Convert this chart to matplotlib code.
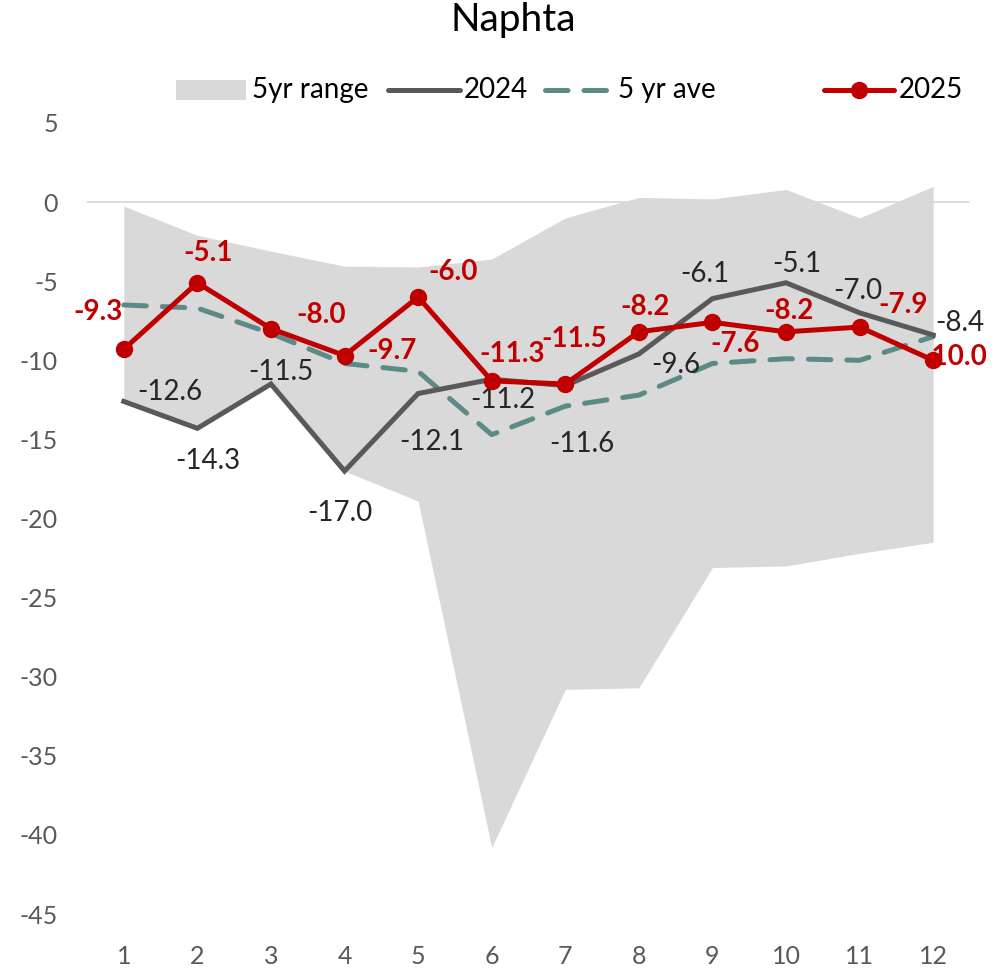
import matplotlib
matplotlib.use("Agg")
import matplotlib.pyplot as plt
from matplotlib.patches import Rectangle
from matplotlib.lines import Line2D

plt.rcParams['font.family'] = ['Lato', 'DejaVu Sans']

# ---- data ----
months = [1, 2, 3, 4, 5, 6, 7, 8, 9, 10, 11, 12]
range_high = [-0.25, -2.1, -3.1, -4.05, -4.1, -3.6, -1.0, 0.3, 0.2, 0.8, -1.0, 1.0]
range_low = [-12.6, -14.3, -11.5, -17.0, -18.9, -40.8, -30.8, -30.7, -23.1, -23.0, -22.2, -21.5]
y2024 = [-12.6, -14.3, -11.5, -17.0, -12.1, -11.2, -11.6, -9.6, -6.1, -5.1, -7.0, -8.4]
avg5 = [-6.5, -6.7, -8.3, -10.2, -10.7, -14.7, -12.9, -12.2, -10.2, -9.9, -10.0, -8.5]
y2025 = [-9.3, -5.1, -8.0, -9.7, -6.0, -11.3, -11.5, -8.2, -7.6, -8.2, -7.9, -10.0]
yticks = [5, 0, -5, -10, -15, -20, -25, -30, -35, -40, -45]

# label offsets in pixels (dx, dy with y pointing up)
off2024 = [(46, 9), (10, -33), (10, 12), (-5, -42), (14, -48), (11, -21),
           (17, -58), (37, -11), (-8, 25), (11, 19), (-2, 22), (27, 12)]
off2025 = [(-26, 37), (11, 30), (50, 14), (48, 5), (35, 25), (20, 27),
           (9, 45), (6, 25), (23, -22), (3, 21), (43, 22), (21, 3)]

W, H = 1006, 976
fig = plt.figure(figsize=(W / 100, H / 100), dpi=100)
ax = fig.add_axes([87 / W, 1 - 914 / H, (970 - 87) / W, (914 - 123) / H])

C_RANGE = '#D9D9D9'
C_2024 = '#595959'
C_AVG = '#5B8A87'
C_2025 = '#C00000'
FS_LABEL = 20
FS_TICK = 18

ax.fill_between(months, range_low, range_high, color=C_RANGE, lw=0, zorder=1)
ax.axhline(0, color='#D9D9D9', lw=1.3, zorder=0.5)
ax.plot(months, y2024, color=C_2024, lw=3.6, zorder=3, solid_joinstyle='miter')
ax.plot(months, avg5, color=C_AVG, lw=3.6, zorder=2, dashes=(4.5, 3.2),
        dash_capstyle='round')
ax.plot(months, y2025, color=C_2025, lw=3.6, marker='o', ms=11.5, zorder=6)

for x, v, (dx, dy) in zip(months, y2024, off2024):
    ax.annotate(f'{v:.1f}', (x, v), xytext=(dx, dy), textcoords='offset pixels',
                ha='center', va='center', fontsize=FS_LABEL, color='#262626', zorder=4)
for x, v, (dx, dy) in zip(months, y2025, off2025):
    ax.annotate(f'{v:.1f}', (x, v), xytext=(dx, dy), textcoords='offset pixels',
                ha='center', va='center', fontsize=FS_LABEL, color=C_2025,
                fontweight='bold', zorder=5, annotation_clip=False)

ax.set_xlim(0.5, 12.5)
ax.set_ylim(-45, 5)
ax.set_xticks(months)
ax.set_xticklabels([str(m) for m in months])
ax.set_yticks(yticks)
ax.set_yticklabels([str(t) for t in yticks])
ax.tick_params(axis='both', length=0, labelsize=FS_TICK, labelcolor='#595959')
ax.tick_params(axis='x', pad=22)
ax.tick_params(axis='y', pad=21)
for s in ax.spines.values():
    s.set_visible(False)
ax.set_facecolor('none')

fig.text(513 / W, 1 - 20 / H, 'Naphta', ha='center', va='center',
         fontsize=28, color='black')


def fx(px):
    return px / W


def fy(py):
    return 1 - py / H


# legend row
ly = 90
fig.add_artist(Rectangle((fx(176), fy(100)), fx(246) - fx(176), fy(80) - fy(100),
                         transform=fig.transFigure, color=C_RANGE, lw=0))
fig.text(fx(252), fy(ly), '5yr range', ha='left', va='center', fontsize=FS_LABEL, color='black')
fig.add_artist(Line2D([fx(388), fx(460)], [fy(ly), fy(ly)], transform=fig.transFigure,
                      color=C_2024, lw=3.6, solid_capstyle='round'))
fig.text(fx(464), fy(ly), '2024', ha='left', va='center', fontsize=FS_LABEL, color='black')
fig.add_artist(Line2D([fx(545), fx(607)], [fy(ly), fy(ly)], transform=fig.transFigure,
                      color=C_AVG, lw=3.6, dashes=(4.5, 3.2), dash_capstyle='round'))
fig.text(fx(618), fy(ly), '5 yr ave', ha='left', va='center', fontsize=FS_LABEL, color='black')
fig.add_artist(Line2D([fx(824), fx(894)], [fy(ly), fy(ly)], transform=fig.transFigure,
                      color=C_2025, lw=3.6, solid_capstyle='round'))
fig.add_artist(Line2D([fx(859)], [fy(ly)], transform=fig.transFigure,
                      color=C_2025, marker='o', ms=11.5, lw=0))
fig.text(fx(899), fy(ly), '2025', ha='left', va='center', fontsize=FS_LABEL, color='black')

fig.savefig('out.png', dpi=100)
